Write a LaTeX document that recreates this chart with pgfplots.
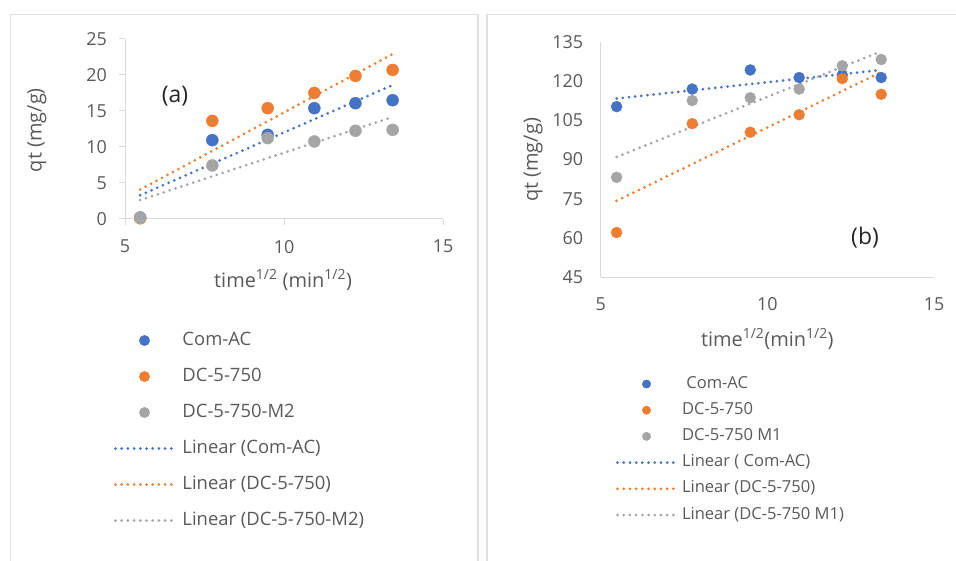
\documentclass[border=0pt]{standalone}
\usepackage{fontspec}
\setmainfont{Open Sans}
\usepackage{pgfplots}
\usepackage{pgfplotstable}
\pgfplotsset{compat=1.18}
\definecolor{cblue}{HTML}{4472C4}
\definecolor{corange}{HTML}{ED7D31}
\definecolor{cgray}{HTML}{A5A5A5}
\definecolor{ctext}{HTML}{595959}
\definecolor{caxis}{HTML}{D9D9D9}
\definecolor{cframe}{HTML}{E0E0E0}

% left panel (a): x = sqrt(t), a = Com-AC, b = DC-5-750, c = DC-5-750-M2
\pgfplotstableread{
x a b c
5.477 0.20 0.10 0.15
7.746 10.95 13.63 7.44
9.487 11.69 15.39 11.23
10.954 15.39 17.51 10.77
12.247 16.08 19.87 12.25
13.416 16.50 20.70 12.38
}\dataA

% right panel (b): a = Com-AC, b = DC-5-750, c = DC-5-750 M1
\pgfplotstableread{
x a b c
5.477 110.2 62.1 83.2
7.746 116.9 103.7 112.5
9.487 124.2 100.4 113.6
10.954 121.3 107.1 116.9
12.247 122.3 120.9 125.8
13.416 121.3 114.9 128.2
}\dataB

\pgfplotsset{
  excel/.style={
    scale only axis, clip=false,
    axis x line*=bottom, axis y line*=left,
    axis line style={caxis, line width=1bp, -},
    tick style={caxis, line width=1bp},
    every tick label/.append style={font=\fontsize{18}{21}\selectfont, text=ctext},
    /pgf/number format/assume math mode=true,
    label style={font=\fontsize{20}{24}\selectfont, text=ctext},
    legend cell align=left,
  },
  dots/.style={only marks, mark=*, mark size=#1, mark options={draw=none}},
  trend/.style={draw=#1, line width=3bp, dash pattern=on 0bp off 6.2bp, line cap=round, no marks},
  dotlegend/.style={legend image code/.code={\draw[##1, mark size=#1] plot coordinates {(29bp,0bp)};}},
  linelegend/.style={legend image code/.code={\draw[##1] (0bp,0bp) -- (#1,0bp);}},
}

\begin{document}
\begin{tikzpicture}[x=1bp,y=1bp]
\useasboundingbox (0,0) rectangle (956,561);
\draw[cframe, line width=1.5bp] (10.5,-5) -- (10.5,546.5) -- (478,546.5) -- (478,-5);
\draw[cframe, line width=1.5bp] (487,-5) -- (487,546.5) -- (962,546.5);

% ---------------- panel (a)
\begin{axis}[excel,
  at={(125bp,342bp)}, anchor=south west,
  width=318bp, height=180bp,
  xmin=5, xmax=15, ymin=0, ymax=25,
  xtick={5,10,15}, ytick={0,5,...,25},
  tick align=outside, major tick length=6.5bp,
  xticklabel style={yshift=-11bp},
  yticklabel style={xshift=-8bp},
  xlabel={time\textsuperscript{1/2} (min\textsuperscript{1/2})},
  ylabel={qt (mg/g)},
  xlabel style={at={(axis description cs:0.497,-0.339)}, anchor=center},
  ylabel style={at={(axis description cs:-0.277,0.494)}, anchor=center},
  legend style={at={(axis description cs:-0.0346,-0.628)}, anchor=north west,
    draw=none, fill=none, inner sep=0pt, outer sep=0pt, row sep=19bp,
    font=\fontsize{18.5}{22}\selectfont, text=ctext,
    nodes={inner sep=0pt, text height=13bp, text depth=4bp},
    /tikz/every odd column/.style={column sep=7.5bp}},
]
\addplot[dots=6bp, color=cblue, dotlegend=5.2bp] table[x=x,y=a] {\dataA};
\addlegendentry{Com-AC}
\addplot[dots=6bp, color=corange, dotlegend=5.2bp] table[x=x,y=b] {\dataA};
\addlegendentry{DC-5-750}
\addplot[dots=6bp, color=cgray, dotlegend=5.2bp] table[x=x,y=c] {\dataA};
\addlegendentry{DC-5-750-M2}
\addplot[trend=cblue, linelegend=58bp] table[x=x, y={create col/linear regression={y=a}}] {\dataA};
\addlegendentry{Linear (Com-AC)}
\addplot[trend=corange, linelegend=58bp] table[x=x, y={create col/linear regression={y=b}}] {\dataA};
\addlegendentry{Linear (DC-5-750)}
\addplot[trend=cgray, linelegend=58bp] table[x=x, y={create col/linear regression={y=c}}] {\dataA};
\addlegendentry{Linear (DC-5-750-M2)}
\node[font=\fontsize{23}{27}\selectfont, text=black!85] at (axis cs:6.57,17.1) {(a)};
\end{axis}

% ---------------- panel (b)
\begin{axis}[excel,
  at={(600.7bp,283.7bp)}, anchor=south west,
  width=333.3bp, height=235.6bp,
  xmin=5, xmax=15, ymin=45, ymax=135,
  xtick={5,10,15}, ytick={45,60,...,135},
  major tick length=0pt,
  xticklabel style={yshift=-17bp},
  yticklabel style={xshift=-14bp},
  xlabel={time\textsuperscript{1/2}(min\textsuperscript{1/2})},
  ylabel={qt (mg/g)},
  xlabel style={at={(axis description cs:0.50,-0.262)}, anchor=center},
  ylabel style={at={(axis description cs:-0.203,0.498)}, anchor=center},
  legend style={at={(axis description cs:0.046,-0.419)}, anchor=north west,
    draw=none, fill=none, inner sep=0pt, outer sep=0pt, row sep=10.2bp,
    font=\fontsize{16.6}{20}\selectfont, text=ctext,
    nodes={inner sep=0pt, text height=12bp, text depth=4bp},
    /tikz/every odd column/.style={column sep=6bp}},
]
\addplot[dots=5.5bp, color=cblue, dotlegend=4.2bp] table[x=x,y=a] {\dataB};
\addlegendentry{\ Com-AC}
\addplot[dots=5.5bp, color=corange, dotlegend=4.2bp] table[x=x,y=b] {\dataB};
\addlegendentry{DC-5-750}
\addplot[dots=5.5bp, color=cgray, dotlegend=4.2bp] table[x=x,y=c] {\dataB};
\addlegendentry{DC-5-750 M1}
\addplot[trend=cblue, linelegend=57bp] table[x=x, y={create col/linear regression={y=a}}] {\dataB};
\addlegendentry{Linear ( Com-AC)}
\addplot[trend=corange, linelegend=57bp] table[x=x, y={create col/linear regression={y=b}}] {\dataB};
\addlegendentry{Linear (DC-5-750)}
\addplot[trend=cgray, linelegend=57bp] table[x=x, y={create col/linear regression={y=c}}] {\dataB};
\addlegendentry{Linear (DC-5-750 M1)}
\node[font=\fontsize{23}{27}\selectfont, text=black!85] at (axis cs:12.93,60.0) {(b)};
\end{axis}
\end{tikzpicture}
\end{document}
